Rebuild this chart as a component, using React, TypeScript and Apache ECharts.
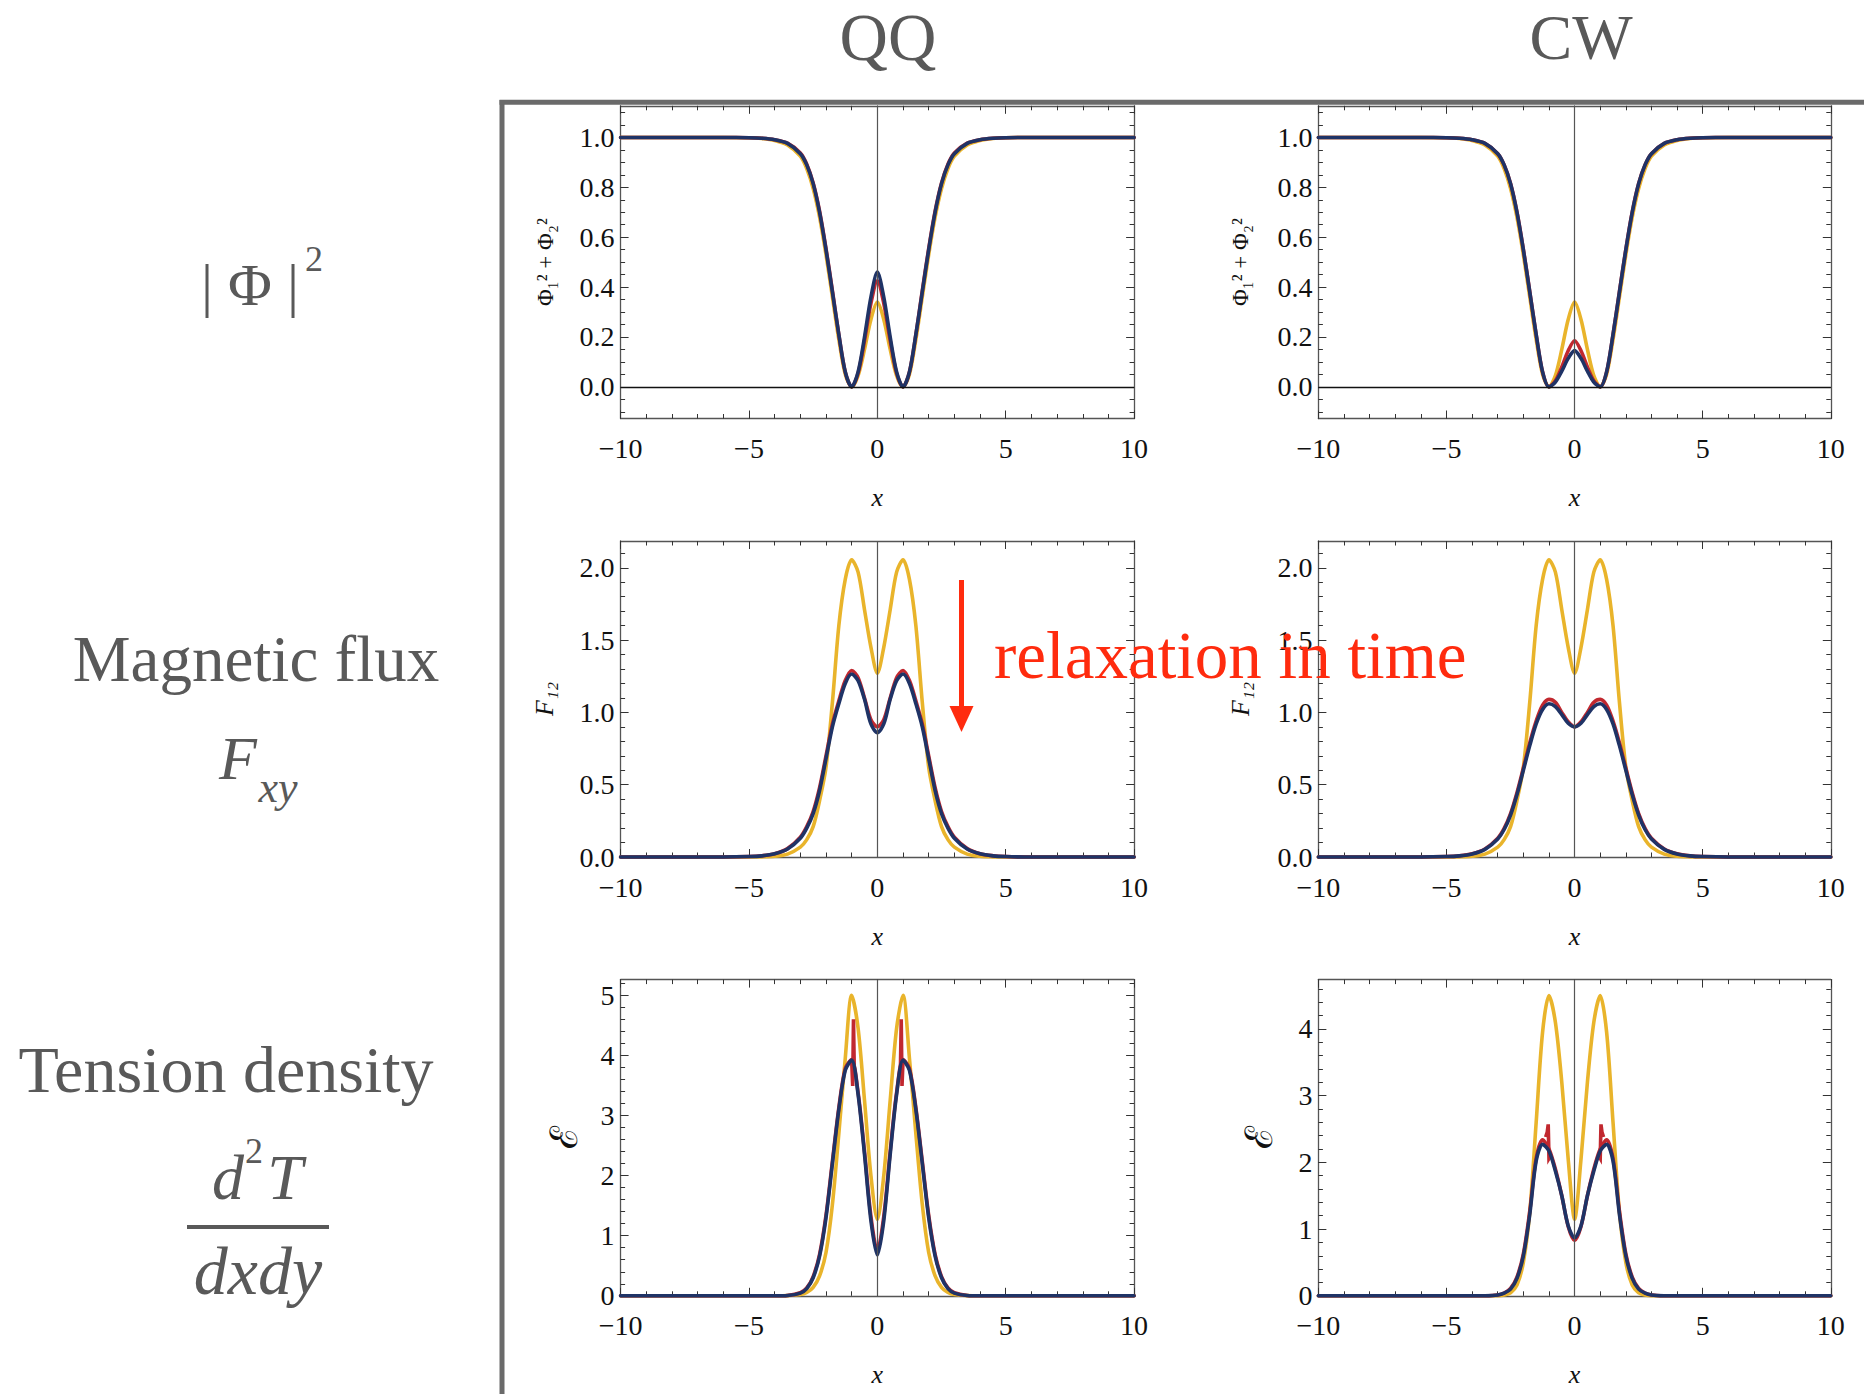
import React, { useEffect, useRef } from "react";
import * as echarts from "echarts";

// ---------- data (half profiles for x >= 0; every curve is symmetric in x) ----------
const X_HALF = [0, 0.25, 0.5, 0.75, 1, 1.25, 1.5, 1.75, 2, 2.25, 2.5, 2.75, 3, 3.5, 4, 4.5, 5, 6, 7, 8, 10];

// |Phi|^2
const PHI_INITIAL = [0.34, 0.27, 0.15, 0.045, 0.0, 0.05, 0.19, 0.36, 0.53, 0.68, 0.795, 0.875, 0.925, 0.97, 0.988, 0.996, 0.999, 1, 1, 1, 1];
const PHI_QQ_MID = [0.425, 0.335, 0.185, 0.055, 0.0, 0.06, 0.21, 0.385, 0.555, 0.705, 0.818, 0.893, 0.938, 0.977, 0.991, 0.997, 0.999, 1, 1, 1, 1];
const PHI_QQ_FINAL = [0.46, 0.36, 0.2, 0.06, 0.0, 0.06, 0.21, 0.38, 0.55, 0.7, 0.815, 0.89, 0.935, 0.976, 0.991, 0.997, 0.999, 1, 1, 1, 1];
const PHI_CW_MID = [0.185, 0.145, 0.08, 0.024, 0.0, 0.06, 0.21, 0.382, 0.552, 0.702, 0.816, 0.89, 0.935, 0.976, 0.991, 0.997, 0.999, 1, 1, 1, 1];
const PHI_CW_FINAL = [0.145, 0.114, 0.063, 0.019, 0.0, 0.06, 0.21, 0.38, 0.55, 0.7, 0.815, 0.89, 0.935, 0.976, 0.991, 0.997, 0.999, 1, 1, 1, 1];

// F12
const F_INITIAL = [1.27, 1.45, 1.71, 1.97, 2.055, 1.92, 1.6, 1.07, 0.62, 0.39, 0.21, 0.12, 0.068, 0.02, 0.005, 0.001, 0, 0, 0, 0, 0];
const F_QQ_MID = [0.9, 0.95, 1.1, 1.24, 1.29, 1.22, 1.08, 0.92, 0.7, 0.48, 0.315, 0.21, 0.137, 0.058, 0.023, 0.009, 0.003, 0, 0, 0, 0];
const F_QQ_FINAL = [0.86, 0.92, 1.09, 1.22, 1.265, 1.2, 1.06, 0.9, 0.68, 0.46, 0.3, 0.2, 0.13, 0.055, 0.022, 0.008, 0.003, 0, 0, 0, 0];
const F_CW_MID = [0.9, 0.935, 1.0, 1.07, 1.09, 1.05, 0.94, 0.79, 0.615, 0.445, 0.3, 0.198, 0.13, 0.055, 0.022, 0.008, 0.003, 0, 0, 0, 0];
const F_CW_FINAL = [0.9, 0.925, 0.985, 1.04, 1.06, 1.02, 0.92, 0.77, 0.6, 0.43, 0.29, 0.19, 0.125, 0.053, 0.021, 0.008, 0.003, 0, 0, 0, 0];

// energy density
const E_QQ_INITIAL = [1.27, 2.0, 3.25, 4.45, 5.0, 3.95, 2.7, 1.52, 0.72, 0.33, 0.14, 0.055, 0.02, 0.003, 0, 0, 0, 0, 0, 0, 0];
const E_QQ_MID = [0.75, 1.32, 2.4, 3.38, 3.93, 3.78, 3.13, 2.24, 1.34, 0.69, 0.32, 0.13, 0.05, 0.006, 0, 0, 0, 0, 0, 0, 0];
const E_QQ_FINAL = [0.68, 1.25, 2.35, 3.35, 3.92, 3.75, 3.1, 2.2, 1.3, 0.66, 0.3, 0.12, 0.045, 0.005, 0, 0, 0, 0, 0, 0, 0];
const E_QQ_SPIKE_X = [0.9, 0.93, 0.96, 1.0];
const E_QQ_SPIKE_Y = [3.8, 4.6, 3.49, 3.92];
const E_CW_INITIAL = [1.15, 2.05, 3.2, 4.1, 4.5, 3.95, 2.6, 1.25, 0.5, 0.16, 0.045, 0.012, 0.003, 0, 0, 0, 0, 0, 0, 0, 0];
const E_CW_MID = [0.83, 1.04, 1.5, 1.9, 2.2, 2.34, 2.06, 1.27, 0.63, 0.28, 0.11, 0.042, 0.013, 0.001, 0, 0, 0, 0, 0, 0, 0];
const E_CW_FINAL = [0.87, 1.05, 1.5, 1.87, 2.17, 2.27, 2.02, 1.22, 0.6, 0.26, 0.1, 0.04, 0.012, 0.001, 0, 0, 0, 0, 0, 0, 0];
const E_CW_SPIKE_X = [0.97, 1.0, 1.03, 1.07, 1.13];
const E_CW_SPIKE_Y = [2.08, 2.06, 2.57, 2.45, 2.38];

// ticks
const X_MAJOR = [-10, -5, 0, 5, 10];
const PHI_MAJOR = [0, 0.2, 0.4, 0.6, 0.8, 1.0];
const F_MAJOR = [0, 0.5, 1.0, 1.5, 2.0];
const E_QQ_MAJOR = [0, 1, 2, 3, 4, 5];
const E_CW_MAJOR = [0, 1, 2, 3, 4];

// text
const COLUMN_TITLES = ["QQ", "CW"];

// ---------- styles ----------
const YELLOW = "#E9B42B";
const RED = "#C1282F";
const NAVY = "#1F3366";
const FRAME = "#555555";
const TICK = "#333333";
const LABEL_GRAY = "#595959";
const ARROW_RED = "#FF2B0E";
const SERIF = '"Liberation Serif", "DejaVu Serif", serif';

function tickRange(start: number, stop: number, step: number): number[] {
  const out: number[] = [];
  const n = Math.round((stop - start) / step);
  for (let i = 0; i <= n; i++) out.push(Math.round((start + i * step) * 1000) / 1000);
  return out;
}

function mirrored(xs: number[], ys: number[]): number[][] {
  const pts: number[][] = [];
  for (let i = xs.length - 1; i >= 0; i--) if (xs[i] !== 0) pts.push([-xs[i], ys[i]]);
  for (let i = 0; i < xs.length; i++) pts.push([xs[i], ys[i]]);
  return pts;
}

function side(xs: number[], ys: number[], sign: number): number[][] {
  const pts = xs.map((x, i) => [sign * x, ys[i]]);
  return sign < 0 ? pts.reverse() : pts;
}

const COL_LEFT = [620.6, 1318.4];
const COL_WIDTH = [513.5, 512.4];
const ROW_TOP = [105.8, 541, 979.6];
const ROW_HEIGHT = [312.7, 316, 316.2];

type Panel = {
  col: number; row: number; curves: number[][];
  spikeX: number[] | null; spikeY: number[] | null;
  yMin: number; yMax: number; major: number[]; minor: number[]; decimals: number;
  name: string; nameSize: number; nameItalic: boolean; nameGap: number; zeroY: boolean;
};

const PANELS: Panel[] = [
  { col: 0, row: 0, curves: [PHI_INITIAL, PHI_QQ_MID, PHI_QQ_FINAL], spikeX: null, spikeY: null, yMin: -0.127, yMax: 1.127, major: PHI_MAJOR, minor: tickRange(-0.1, 1.1, 0.05), decimals: 1, name: "Φ₁² + Φ₂²", nameSize: 23, nameItalic: false, nameGap: 64, zeroY: true },
  { col: 1, row: 0, curves: [PHI_INITIAL, PHI_CW_MID, PHI_CW_FINAL], spikeX: null, spikeY: null, yMin: -0.127, yMax: 1.127, major: PHI_MAJOR, minor: tickRange(-0.1, 1.1, 0.05), decimals: 1, name: "Φ₁² + Φ₂²", nameSize: 23, nameItalic: false, nameGap: 66, zeroY: true },
  { col: 0, row: 1, curves: [F_INITIAL, F_QQ_MID, F_QQ_FINAL], spikeX: null, spikeY: null, yMin: 0, yMax: 2.185, major: F_MAJOR, minor: tickRange(0, 2.1, 0.1), decimals: 1, name: "F₁₂", nameSize: 26, nameItalic: true, nameGap: 63, zeroY: false },
  { col: 1, row: 1, curves: [F_INITIAL, F_CW_MID, F_CW_FINAL], spikeX: null, spikeY: null, yMin: 0, yMax: 2.185, major: F_MAJOR, minor: tickRange(0, 2.1, 0.1), decimals: 1, name: "F₁₂", nameSize: 26, nameItalic: true, nameGap: 65, zeroY: false },
  { col: 0, row: 2, curves: [E_QQ_INITIAL, E_QQ_MID, E_QQ_FINAL], spikeX: E_QQ_SPIKE_X, spikeY: E_QQ_SPIKE_Y, yMin: 0, yMax: 5.26, major: E_QQ_MAJOR, minor: tickRange(0, 5.2, 0.2), decimals: 0, name: "ℰ", nameSize: 38, nameItalic: false, nameGap: 38, zeroY: false },
  { col: 1, row: 2, curves: [E_CW_INITIAL, E_CW_MID, E_CW_FINAL], spikeX: E_CW_SPIKE_X, spikeY: E_CW_SPIKE_Y, yMin: 0, yMax: 4.74, major: E_CW_MAJOR, minor: tickRange(0, 4.6, 0.2), decimals: 0, name: "ℰ", nameSize: 38, nameItalic: false, nameGap: 40, zeroY: false },
];

const X_MINOR = tickRange(-10, 10, 1);

function fmt(decimals: number) {
  return (v: number) => (v < 0 ? "−" : "") + Math.abs(v).toFixed(decimals);
}

function makeAxis(o: {
  gridIndex: number; position: string; min: number; max: number; ticks: number[];
  length: number; showLine: boolean; labels: boolean; decimals?: number; margin?: number;
  name?: string; nameGap?: number; nameRotate?: number; nameStyle?: any;
}) {
  const axis: any = {
    type: "value",
    gridIndex: o.gridIndex,
    position: o.position,
    min: o.min,
    max: o.max,
    axisLine: { show: o.showLine, onZero: false, lineStyle: { color: FRAME, width: 1.3 } },
    axisTick: { show: true, inside: true, length: o.length, customValues: o.ticks, lineStyle: { color: TICK, width: 1 } },
    axisLabel: o.labels
      ? { show: true, customValues: o.ticks, formatter: fmt(o.decimals || 0), margin: o.margin, fontFamily: SERIF, fontSize: 28, color: "#111" }
      : { show: false },
    splitLine: { show: false },
    minorTick: { show: false },
    silent: true,
  };
  if (o.name) {
    axis.name = o.name;
    axis.nameLocation = "middle";
    axis.nameGap = o.nameGap;
    if (o.nameRotate !== undefined) axis.nameRotate = o.nameRotate;
    axis.nameTextStyle = o.nameStyle;
  }
  return axis;
}

function buildOption() {
  const grids: any[] = [];
  const xAxes: any[] = [];
  const yAxes: any[] = [];
  const series: any[] = [];
  const colors = [YELLOW, RED, NAVY];

  PANELS.forEach((p, gi) => {
    grids.push({
      left: COL_LEFT[p.col], top: ROW_TOP[p.row], width: COL_WIDTH[p.col], height: ROW_HEIGHT[p.row],
      containLabel: false, outerBoundsMode: "none",
    });
    const xi = xAxes.length;
    xAxes.push(makeAxis({ gridIndex: gi, position: "bottom", min: -10, max: 10, ticks: X_MAJOR, length: 8, showLine: true, labels: true, decimals: 0, margin: 16,
      name: "x", nameGap: 66, nameStyle: { fontFamily: SERIF, fontStyle: "italic", fontSize: 26, color: "#111" } }));
    xAxes.push(makeAxis({ gridIndex: gi, position: "bottom", min: -10, max: 10, ticks: X_MINOR, length: 4.5, showLine: false, labels: false }));
    xAxes.push(makeAxis({ gridIndex: gi, position: "top", min: -10, max: 10, ticks: X_MAJOR, length: 8, showLine: true, labels: false }));
    xAxes.push(makeAxis({ gridIndex: gi, position: "top", min: -10, max: 10, ticks: X_MINOR, length: 4.5, showLine: false, labels: false }));

    const yi = yAxes.length;
    yAxes.push(makeAxis({ gridIndex: gi, position: "left", min: p.yMin, max: p.yMax, ticks: p.major, length: 8, showLine: true, labels: true, decimals: p.decimals, margin: 6,
      name: p.name, nameGap: p.nameGap, nameRotate: 90,
      nameStyle: { fontFamily: SERIF, fontStyle: p.nameItalic ? "italic" : "normal", fontSize: p.nameSize, color: "#111" } }));
    yAxes.push(makeAxis({ gridIndex: gi, position: "left", min: p.yMin, max: p.yMax, ticks: p.minor, length: 4.5, showLine: false, labels: false }));
    yAxes.push(makeAxis({ gridIndex: gi, position: "right", min: p.yMin, max: p.yMax, ticks: p.major, length: 8, showLine: true, labels: false }));
    yAxes.push(makeAxis({ gridIndex: gi, position: "right", min: p.yMin, max: p.yMax, ticks: p.minor, length: 4.5, showLine: false, labels: false }));

    p.curves.forEach((ys, k) => {
      const s: any = {
        type: "line",
        xAxisIndex: xi,
        yAxisIndex: yi,
        data: mirrored(X_HALF, ys),
        smooth: 0.3,
        symbol: "none",
        showSymbol: false,
        clip: false,
        silent: true,
        z: 2 + k,
        lineStyle: { color: colors[k], width: 3.6, cap: "round", join: "round" },
      };
      if (k === 0) {
        const lines: any[] = [{ xAxis: 0, lineStyle: { color: "#555", width: 1.2, type: "solid" } }];
        if (p.zeroY) lines.push({ yAxis: 0, lineStyle: { color: "#111", width: 1.3, type: "solid" } });
        s.markLine = { silent: true, symbol: ["none", "none"], label: { show: false }, data: lines, animation: false };
      }
      series.push(s);
    });

    if (p.spikeX && p.spikeY) {
      [-1, 1].forEach((sign) => {
        series.push({
          type: "line", xAxisIndex: xi, yAxisIndex: yi,
          data: side(p.spikeX as number[], p.spikeY as number[], sign),
          smooth: false, symbol: "none", showSymbol: false, clip: false, silent: true, z: 3,
          lineStyle: { color: RED, width: 3.6, join: "miter" },
        });
      });
    }
  });

  const t = (text: string, x: number, y: number, size: number, opts: any = {}) => ({
    type: "text",
    x, y, z: 100,
    silent: true,
    style: {
      text,
      fill: opts.fill || LABEL_GRAY,
      fontFamily: SERIF,
      fontSize: size,
      fontStyle: opts.italic ? "italic" : "normal",
      align: opts.align || "center",
      verticalAlign: "middle",
      textAlign: opts.align || "center",
      textVerticalAlign: "middle",
    },
  });

  const graphic: any[] = [
    { type: "line", z: 50, silent: true, shape: { x1: 502, y1: 100, x2: 502, y2: 1394 }, style: { stroke: "#6a6a6a", lineWidth: 5 } },
    { type: "line", z: 50, silent: true, shape: { x1: 499.5, y1: 102.3, x2: 1864, y2: 102.3 }, style: { stroke: "#6a6a6a", lineWidth: 5 } },
    t(COLUMN_TITLES[0], 888, 37, 67),
    t(COLUMN_TITLES[1], 1581, 37, 64),
    t("| Φ |", 250, 285, 60),
    t("2", 314, 259, 36),
    t("Magnetic flux", 256, 659, 65),
    t("F", 238, 758, 62, { italic: true }),
    t("xy", 278, 787, 44, { italic: true }),
    t("Tension density", 226, 1069, 66),
    t("d", 228, 1177, 64, { italic: true }),
    t("2", 254, 1151, 36),
    t("T", 285, 1177, 64, { italic: true }),
    { type: "line", z: 100, silent: true, shape: { x1: 187, y1: 1227, x2: 329, y2: 1227 }, style: { stroke: LABEL_GRAY, lineWidth: 4 } },
    t("dxdy", 258, 1271, 68, { italic: true }),
    t("relaxation in time", 994, 655, 67, { fill: ARROW_RED, align: "left" }),
    { type: "line", z: 100, silent: true, shape: { x1: 961.5, y1: 580, x2: 961.5, y2: 712 }, style: { stroke: ARROW_RED, lineWidth: 5 } },
    { type: "polygon", z: 100, silent: true, shape: { points: [[949.5, 706], [973.5, 706], [961.5, 732]] }, style: { fill: ARROW_RED } },
  ];

  return {
    animation: false,
    backgroundColor: "#ffffff",
    grid: grids,
    xAxis: xAxes,
    yAxis: yAxes,
    series,
    graphic,
  };
}

export default function App() {
  const ref = useRef<HTMLDivElement>(null);
  useEffect(() => {
    document.body.style.margin = "0";
    document.body.style.overflow = "hidden";
    const chart = echarts.init(ref.current as HTMLDivElement, undefined, { renderer: "svg" });
    chart.setOption(buildOption() as any);
    return () => chart.dispose();
  }, []);
  return (
    <div
      ref={ref}
      style={{ position: "absolute", left: 0, top: 0, width: 1864, height: 1394, background: "#fff" }}
    />
  );
}
